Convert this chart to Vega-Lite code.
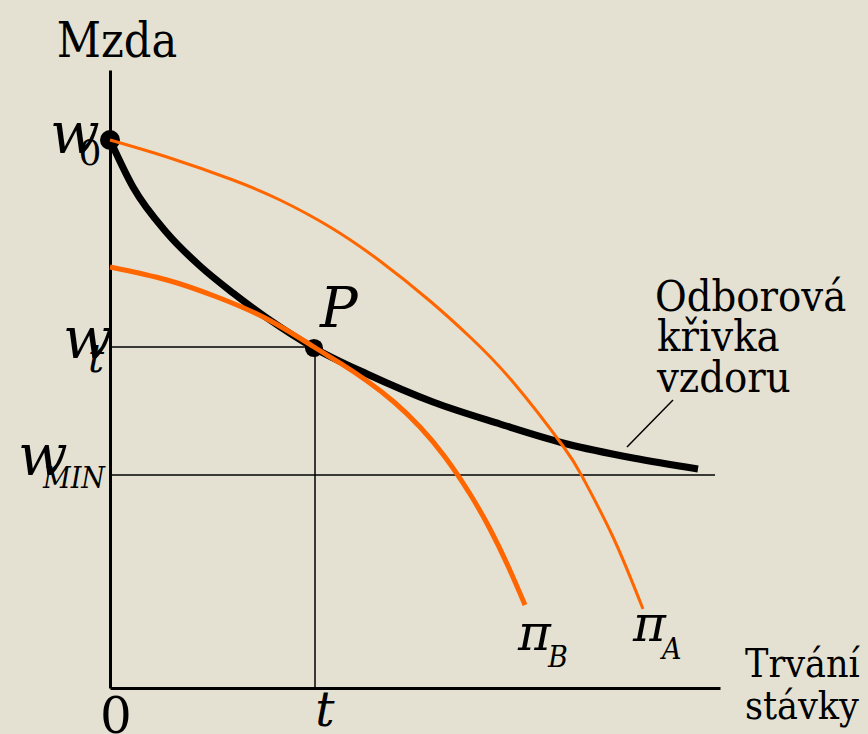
{
  "$schema": "https://vega.github.io/schema/vega-lite/v6.json",
  "width": 610,
  "height": 618,
  "autosize": {"type": "none"},
  "padding": {"left": 110, "top": 70, "right": 148, "bottom": 46},
  "background": "#E4E1D2",
  "config": {
    "view": {"stroke": null}
  },
  "datasets": {
    "curves": [
      {"series": "vzdor", "duration": 0, "wage": 548},
      {"series": "vzdor", "duration": 23, "wage": 501},
      {"series": "vzdor", "duration": 57, "wage": 455},
      {"series": "vzdor", "duration": 90, "wage": 422},
      {"series": "vzdor", "duration": 123, "wage": 395},
      {"series": "vzdor", "duration": 157, "wage": 370},
      {"series": "vzdor", "duration": 204, "wage": 340},
      {"series": "vzdor", "duration": 257, "wage": 314},
      {"series": "vzdor", "duration": 323, "wage": 286},
      {"series": "vzdor", "duration": 390, "wage": 264},
      {"series": "vzdor", "duration": 457, "wage": 244},
      {"series": "vzdor", "duration": 523, "wage": 230},
      {"series": "vzdor", "duration": 588, "wage": 219},
      {"series": "piB", "duration": 0, "wage": 421},
      {"series": "piB", "duration": 57, "wage": 408},
      {"series": "piB", "duration": 107, "wage": 391},
      {"series": "piB", "duration": 157, "wage": 369},
      {"series": "piB", "duration": 204, "wage": 341},
      {"series": "piB", "duration": 230, "wage": 325},
      {"series": "piB", "duration": 257, "wage": 307},
      {"series": "piB", "duration": 284, "wage": 286},
      {"series": "piB", "duration": 310, "wage": 261},
      {"series": "piB", "duration": 335, "wage": 231},
      {"series": "piB", "duration": 360, "wage": 194},
      {"series": "piB", "duration": 380, "wage": 159},
      {"series": "piB", "duration": 398, "wage": 122},
      {"series": "piB", "duration": 415, "wage": 83},
      {"series": "piA", "duration": 0, "wage": 548},
      {"series": "piA", "duration": 57, "wage": 531},
      {"series": "piA", "duration": 123, "wage": 508},
      {"series": "piA", "duration": 170, "wage": 488},
      {"series": "piA", "duration": 220, "wage": 461},
      {"series": "piA", "duration": 270, "wage": 427},
      {"series": "piA", "duration": 320, "wage": 387},
      {"series": "piA", "duration": 360, "wage": 351},
      {"series": "piA", "duration": 403, "wage": 306},
      {"series": "piA", "duration": 453, "wage": 242},
      {"series": "piA", "duration": 473, "wage": 210},
      {"series": "piA", "duration": 503, "wage": 151},
      {"series": "piA", "duration": 533, "wage": 79}
    ],
    "guides": [
      {"name": "wt", "duration": 0, "wage": 341, "duration2": 205, "wage2": 341},
      {"name": "t", "duration": 205, "wage": 0, "duration2": 205, "wage2": 341},
      {"name": "wMIN", "duration": 0, "wage": 213, "duration2": 605, "wage2": 213},
      {"name": "leader", "duration": 517, "wage": 241, "duration2": 563, "wage2": 288}
    ],
    "points": [
      {"name": "w0", "duration": 0, "wage": 548},
      {"name": "P", "duration": 204, "wage": 340}
    ],
    "labels": [
      {"kind": "title", "label": "Mzda", "duration": 7, "wage": 631},
      {"kind": "note", "label": "Odborová", "duration": 545, "wage": 377},
      {"kind": "note", "label": "křivka", "duration": 547, "wage": 337},
      {"kind": "note", "label": "vzdoru", "duration": 547, "wage": 296},
      {"kind": "xtitle", "label": "Trvání", "duration": 635, "wage": 11},
      {"kind": "xtitle", "label": "stávky", "duration": 635, "wage": -31},
      {"kind": "origin", "label": "0", "duration": 6, "wage": -45},
      {"kind": "tick", "label": "t", "duration": 215, "wage": -38},
      {"kind": "w", "label": "w", "duration": -60, "wage": 535},
      {"kind": "w", "label": "w", "duration": -47, "wage": 330},
      {"kind": "w", "label": "w", "duration": -92, "wage": 213},
      {"kind": "sub0", "label": "0", "duration": -20, "wage": 523},
      {"kind": "subt", "label": "t", "duration": -22, "wage": 316},
      {"kind": "sub", "label": "MIN", "duration": -67, "wage": 200},
      {"kind": "sub", "label": "B", "duration": 438, "wage": 21},
      {"kind": "sub", "label": "A", "duration": 552, "wage": 29},
      {"kind": "pi", "label": "π", "duration": 408, "wage": 38},
      {"kind": "pi", "label": "π", "duration": 523, "wage": 47},
      {"kind": "point", "label": "P", "duration": 210, "wage": 361}
    ]
  },
  "encoding": {
    "x": {
      "field": "duration",
      "type": "quantitative",
      "scale": {"domain": [0, 610], "nice": false, "zero": false},
      "axis": {"domainColor": "#000000", "domainWidth": 3, "ticks": false, "labels": false, "grid": false, "title": null}
    },
    "y": {
      "field": "wage",
      "type": "quantitative",
      "scale": {"domain": [0, 618], "nice": false, "zero": false},
      "axis": {"domainColor": "#000000", "domainWidth": 3, "ticks": false, "labels": false, "grid": false, "title": null}
    }
  },
  "layer": [
    {
      "data": {"name": "guides"},
      "mark": {"type": "rule", "color": "#000000", "strokeWidth": 1.5},
      "encoding": {"x2": {"field": "duration2"}, "y2": {"field": "wage2"}}
    },
    {
      "data": {"name": "curves"},
      "transform": [{"filter": "datum.series === 'vzdor'"}],
      "mark": {"type": "line", "color": "#000000", "strokeWidth": 7, "interpolate": "monotone"}
    },
    {
      "data": {"name": "points"},
      "transform": [{"filter": "datum.name === 'w0'"}],
      "mark": {"type": "circle", "color": "#000000", "opacity": 1, "size": 400}
    },
    {
      "data": {"name": "points"},
      "transform": [{"filter": "datum.name === 'P'"}],
      "mark": {"type": "circle", "color": "#000000", "opacity": 1, "size": 330}
    },
    {
      "data": {"name": "curves"},
      "transform": [{"filter": "datum.series === 'piB'"}],
      "mark": {"type": "line", "color": "#FF6600", "strokeWidth": 5, "interpolate": "natural"}
    },
    {
      "data": {"name": "curves"},
      "transform": [{"filter": "datum.series === 'piA'"}],
      "mark": {"type": "line", "color": "#FF6600", "strokeWidth": 3, "interpolate": "natural"}
    },
    {
      "data": {"name": "labels"},
      "transform": [{"filter": "datum.kind === 'title'"}],
      "mark": {"type": "text", "font": "DejaVu Serif Condensed", "color": "#000000", "baseline": "alphabetic", "fontSize": 48, "align": "center"},
      "encoding": {"text": {"field": "label"}}
    },
    {
      "data": {"name": "labels"},
      "transform": [{"filter": "datum.kind === 'note'"}],
      "mark": {"type": "text", "font": "DejaVu Serif Condensed", "color": "#000000", "baseline": "alphabetic", "fontSize": 43, "align": "left"},
      "encoding": {"text": {"field": "label"}}
    },
    {
      "data": {"name": "labels"},
      "transform": [{"filter": "datum.kind === 'xtitle'"}],
      "mark": {"type": "text", "font": "DejaVu Serif Condensed", "color": "#000000", "baseline": "alphabetic", "fontSize": 39, "align": "left"},
      "encoding": {"text": {"field": "label"}}
    },
    {
      "data": {"name": "labels"},
      "transform": [{"filter": "datum.kind === 'origin'"}],
      "mark": {"type": "text", "font": "DejaVu Serif", "color": "#000000", "baseline": "alphabetic", "fontSize": 50, "align": "center"},
      "encoding": {"text": {"field": "label"}}
    },
    {
      "data": {"name": "labels"},
      "transform": [{"filter": "datum.kind === 'tick'"}],
      "mark": {"type": "text", "font": "DejaVu Serif", "color": "#000000", "baseline": "alphabetic", "fontSize": 48, "fontStyle": "italic", "align": "center"},
      "encoding": {"text": {"field": "label"}}
    },
    {
      "data": {"name": "labels"},
      "transform": [{"filter": "datum.kind === 'w'"}],
      "mark": {"type": "text", "font": "DejaVu Serif", "color": "#000000", "baseline": "alphabetic", "fontSize": 58, "fontStyle": "italic", "align": "left"},
      "encoding": {"text": {"field": "label"}}
    },
    {
      "data": {"name": "labels"},
      "transform": [{"filter": "datum.kind === 'sub0'"}],
      "mark": {"type": "text", "font": "DejaVu Serif", "color": "#000000", "baseline": "alphabetic", "fontSize": 36, "align": "center"},
      "encoding": {"text": {"field": "label"}}
    },
    {
      "data": {"name": "labels"},
      "transform": [{"filter": "datum.kind === 'subt'"}],
      "mark": {"type": "text", "font": "DejaVu Serif", "color": "#000000", "baseline": "alphabetic", "fontSize": 40, "fontStyle": "italic", "align": "left"},
      "encoding": {"text": {"field": "label"}}
    },
    {
      "data": {"name": "labels"},
      "transform": [{"filter": "datum.kind === 'sub'"}],
      "mark": {"type": "text", "font": "DejaVu Serif Condensed", "color": "#000000", "baseline": "alphabetic", "fontSize": 30, "fontStyle": "italic", "align": "left"},
      "encoding": {"text": {"field": "label"}}
    },
    {
      "data": {"name": "labels"},
      "transform": [{"filter": "datum.kind === 'pi'"}],
      "mark": {"type": "text", "font": "DejaVu Serif", "color": "#000000", "baseline": "alphabetic", "fontSize": 50, "fontStyle": "italic", "align": "left"},
      "encoding": {"text": {"field": "label"}}
    },
    {
      "data": {"name": "labels"},
      "transform": [{"filter": "datum.kind === 'point'"}],
      "mark": {"type": "text", "font": "DejaVu Serif", "color": "#000000", "baseline": "alphabetic", "fontSize": 56, "fontStyle": "italic", "align": "left"},
      "encoding": {"text": {"field": "label"}}
    }
  ]
}
